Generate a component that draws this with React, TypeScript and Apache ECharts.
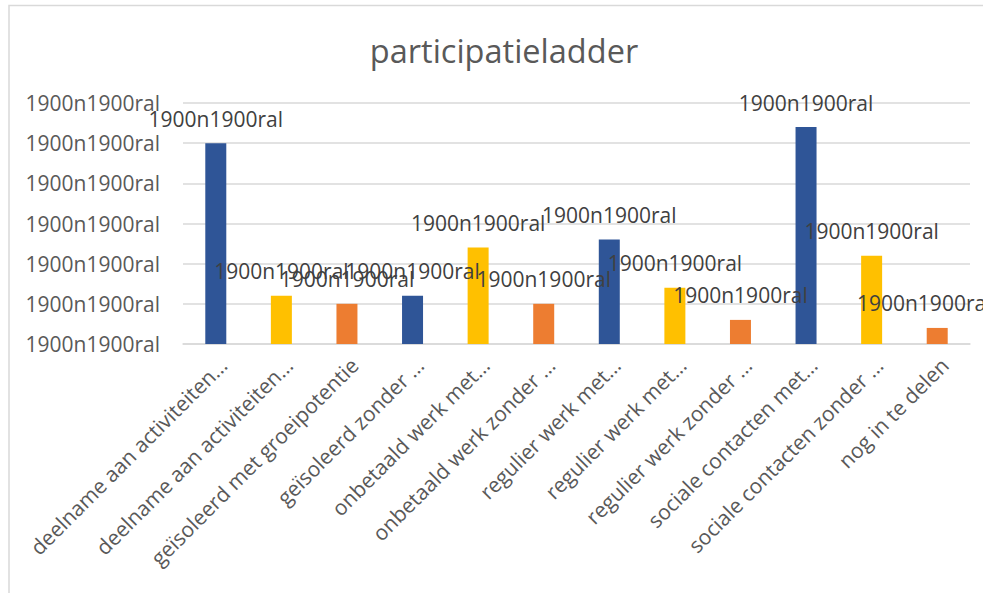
import React, { useEffect, useRef } from "react";
import * as echarts from "echarts";

const title = "participatieladder";
const categories = [
  "deelname aan activiteiten…",
  "deelname aan activiteiten…",
  "geïsoleerd met groeipotentie",
  "geïsoleerd zonder …",
  "onbetaald werk met…",
  "onbetaald werk zonder …",
  "regulier werk met…",
  "regulier werk met…",
  "regulier werk zonder …",
  "sociale contacten met…",
  "sociale contacten zonder …",
  "nog in te delen",
];
const values = [25, 6, 5, 6, 12, 5, 13, 7, 3, 27, 11, 2];
const valueLabels = [
  "1900n1900ral", "1900n1900ral", "1900n1900ral", "1900n1900ral",
  "1900n1900ral", "1900n1900ral", "1900n1900ral", "1900n1900ral",
  "1900n1900ral", "1900n1900ral", "1900n1900ral", "1900n1900ral",
];
const yTickLabels = [
  "1900n1900ral", "1900n1900ral", "1900n1900ral", "1900n1900ral",
  "1900n1900ral", "1900n1900ral", "1900n1900ral",
];
const palette = ["#2F5597", "#FFC000", "#ED7D31"];

const FONT = "Open Sans";

export default function App() {
  const ref = useRef<HTMLDivElement>(null);
  useEffect(() => {
    if (!ref.current) return;
    const chart = echarts.init(ref.current, undefined, { renderer: "svg" });
    chart.setOption({
      animation: false,
      backgroundColor: "#ffffff",
      textStyle: { fontFamily: FONT },
      title: {
        text: title,
        left: 499,
        top: 29,
        textAlign: "center",
        textStyle: { fontFamily: FONT, fontSize: 32.5, fontWeight: "normal", color: "#595959" },
      },
      graphic: [
        {
          type: "rect",
          shape: { x: 9, y: 5.5, width: 1200, height: 800 },
          style: { fill: "none", stroke: "#D9D9D9", lineWidth: 1.5 },
          silent: true,
        },
      ],
      grid: { left: 183, right: 13, top: 103, bottom: 249 },
      xAxis: {
        type: "category",
        data: categories,
        axisLine: { show: true, lineStyle: { color: "#D9D9D9", width: 1.5 } },
        axisTick: { show: false },
        axisLabel: {
          interval: 0,
          rotate: 45,
          margin: 10,
          verticalAlign: "top",
          fontFamily: FONT,
          fontSize: 21,
          color: "#595959",
        },
      },
      yAxis: {
        type: "value",
        min: 0,
        max: 30,
        interval: 5,
        axisLine: { show: false },
        axisTick: { show: false },
        splitLine: { lineStyle: { color: "#D9D9D9", width: 1.5 } },
        axisLabel: {
          margin: 23,
          fontFamily: FONT,
          fontSize: 21,
          color: "#595959",
          formatter: (_v: number, i: number) => yTickLabels[i] ?? "",
        },
      },
      series: [
        {
          type: "bar",
          barWidth: 21,
          data: values.map((v, i) => ({
            value: v,
            itemStyle: { color: palette[i % palette.length] },
            label: i === values.length - 1 ? { offset: [-13, 0] } : undefined,
          })),
          label: {
            show: true,
            position: "top",
            distance: 14,
            fontFamily: FONT,
            fontSize: 21,
            color: "#404040",
            formatter: (p: any) => valueLabels[p.dataIndex],
          },
        },
      ],
    });
    return () => chart.dispose();
  }, []);
  return (
    <div
      ref={ref}
      style={{ position: "fixed", left: 0, top: 0, width: 983, height: 593 }}
    />
  );
}
